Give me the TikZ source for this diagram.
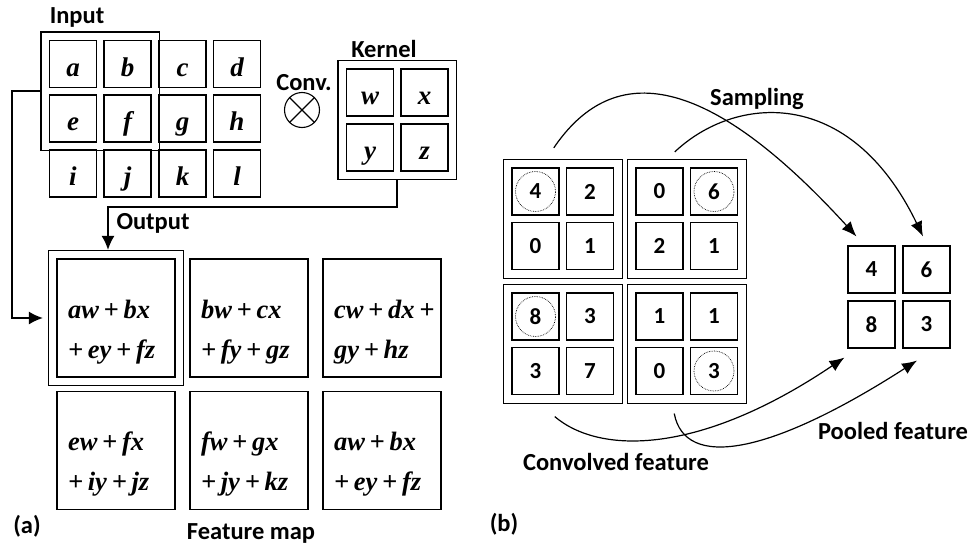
\documentclass[tikz,border=0pt]{standalone}
\usepackage{fontspec}
\setmainfont{Carlito}
\newfontfamily\timesfont{Liberation Serif}
\usetikzlibrary{arrows.meta,positioning,calc,fit}

\tikzset{
  lbl/.style={font=\fontsize{24.5}{27}\selectfont\bfseries},
  cell/.style={draw, line width=1.1pt, minimum size=47pt, inner sep=0pt},
  letter/.style={cell, font=\timesfont\fontsize{27}{29}\selectfont\bfseries\itshape, text height=24pt, text depth=0pt},
  num/.style={cell, font=\fontsize{23}{25}\selectfont\bfseries},
  fcell/.style={draw, line width=1.1pt, minimum size=118pt, inner sep=0pt},
  ftext/.style={font=\timesfont\fontsize{26.5}{40}\selectfont\bfseries\itshape, execute at begin node={\spaceskip=0.18em\relax}, text width=112pt, align=left, inner sep=0pt},
  grp/.style={draw, line width=1.1pt, inner sep=8pt},
  arr/.style={line width=1.6pt, -{Latex[length=14pt,width=13pt]}},
  curv/.style={line width=1.2pt, -{Latex[length=15pt,width=12pt]}},
  pick/.style={densely dotted, line width=0.7pt},
}

\begin{document}
\begin{tikzpicture}[x=1pt,y=-1pt]
\useasboundingbox (0,0) rectangle (972,546);

% --- (a) Input ---
\node[letter] (ia) at (73,64) {a};
\node[letter] (ib) at (127.5,64) {b};
\node[letter] (ic) at (182.5,64) {c};
\node[letter] (id) at (237,64) {d};
\node[letter] (ie) at (73,118.5) {e};
\node[letter] (if) at (127.5,118.5) {f};
\node[letter] (ig) at (182.5,118.5) {g};
\node[letter] (ih) at (237,118.5) {h};
\node[letter] (ii) at (73,173.5) {i};
\node[letter] (ij) at (127.5,173.5) {j};
\node[letter] (ik) at (182.5,173.5) {k};
\node[letter] (il) at (237,173.5) {l};
\node[grp, fit=(ia)(if)] (inbox) {};
\node[lbl] (inlbl) at (77,17) {Input};

% Conv. sign
\node[lbl] (convlbl) at (304,83) {Conv.};
\node[draw, circle, line width=1.1pt, minimum size=35pt, inner sep=0pt] (conv) at (302,110) {};
\draw[line width=1.1pt] (conv.north west) -- (conv.south east);
\draw[line width=1.1pt] (conv.north east) -- (conv.south west);

% --- Kernel ---
\node[letter] (kw) at (370,92.5) {w};
\node[letter] (kx) at (424.5,92.5) {x};
\node[letter] (ky) at (370,147.5) {y};
\node[letter] (kz) at (424.5,147.5) {z};
\node[grp, fit=(kw)(kz)] (kbox) {};
\node[lbl] (klbl) at (384,49) {Kernel};

% --- Feature map ---
\node[fcell] (f1) at (116,318) {};
\node[fcell] (f2) at (249,318) {};
\node[fcell] (f3) at (382,318) {};
\node[fcell] (f4) at (116,450.5) {};
\node[fcell] (f5) at (249,450.5) {};
\node[fcell] (f6) at (382,450.5) {};
\node[ftext] at ([xshift=8pt,yshift=-14pt]f1.center) {aw + bx\\+ ey + fz};
\node[ftext] at ([xshift=8pt,yshift=-14pt]f2.center) {bw + cx\\+ fy + gz};
\node[ftext] at ([xshift=8pt,yshift=-14pt]f3.center) {cw + dx +\\gy + hz};
\node[ftext] at ([xshift=8pt,yshift=-14pt]f4.center) {ew + fx\\+ iy + jz};
\node[ftext] at ([xshift=8pt,yshift=-14pt]f5.center) {fw + gx\\+ jy + kz};
\node[ftext] at ([xshift=8pt,yshift=-14pt]f6.center) {aw + bx\\+ ey + fz};
\node[grp, fit=(f1)] (outbox) {};
\node[lbl] (outlbl) at (153,223) {Output};
\node[lbl] (fmlbl) at (251,533) {Feature map};
\node[lbl] (albl) at (27,526) {(a)};

% Arrows into the output
\coordinate (lbend) at (12,88);
\coordinate (kbend) at (108,207);
\draw[arr, shorten >=5pt] (inbox.west) -| (lbend |- outbox.west) -- (outbox.west);
\draw[arr] (kbox.south) |- (kbend) -- (kbend |- outbox.north);

% --- (b) Convolved feature ---
\node[num] (a1) at (535.5,191.5) {4};
\node[num] (a2) at (590,191.5) {2};
\node[num] (a3) at (535.5,246) {0};
\node[num] (a4) at (590,246) {1};
\node[grp, fit=(a1)(a4)] (qa) {};

\node[num] (b1) at (659.5,191.5) {0};
\node[num] (b2) at (714,191.5) {6};
\node[num] (b3) at (659.5,246) {2};
\node[num] (b4) at (714,246) {1};
\node[grp, fit=(b1)(b4)] (qb) {};

\node[num] (c1) at (535.5,316.5) {8};
\node[num] (c2) at (590,316.5) {3};
\node[num] (c3) at (535.5,371) {3};
\node[num] (c4) at (590,371) {7};
\node[grp, fit=(c1)(c4)] (qc) {};

\node[num] (d1) at (659.5,316.5) {1};
\node[num] (d2) at (714,316.5) {1};
\node[num] (d3) at (659.5,371) {0};
\node[num] (d4) at (714,371) {3};
\node[grp, fit=(d1)(d4)] (qd) {};

% max values
\draw[pick] (a1.center) circle (20pt);
\draw[pick] (b2.center) circle (20pt);
\draw[pick] (c1.center) circle (20pt);
\draw[pick] (d4.center) circle (20pt);

% --- Pooled feature ---
\node[num] (p4) at (871.5,269.5) {4};
\node[num] (p6) at (926.5,269.5) {6};
\node[num] (p8) at (871.5,324.5) {8};
\node[num] (p3) at (926.5,324.5) {3};

\node[lbl] (samplbl) at (757,99) {Sampling};
\node[lbl] (poollbl) at (893,431) {Pooled feature};
\node[lbl] (cvlbl) at (616,462) {Convolved feature};
\node[lbl] (blbl) at (504,524) {(b)};

% Sampling curves
\coordinate (s1) at ([xshift=-9pt,yshift=11pt]qa.north);
\coordinate (s2) at ([xshift=-12pt,yshift=7pt]qb.north);
\coordinate (s3) at ([xshift=-8pt,yshift=-13pt]qc.south);
\coordinate (s4) at ([xshift=-12.5pt,yshift=-10pt]qd.south);
\coordinate (t1) at ([xshift=9pt,yshift=9pt]p4.north west);
\coordinate (t2) at ([xshift=-3.5pt,yshift=9pt]p6.north);
\coordinate (t3) at ([xshift=-3pt,yshift=-9pt]p8.south west);
\coordinate (t4) at ([xshift=-9.5pt,yshift=-12pt]p3.south);
\draw[curv] (s1) .. controls (610,65) and (700,65) .. (t1);
\draw[curv] (s2) .. controls (735,95) and (850,85) .. (t2);
\draw[curv] (s3) .. controls (600,455) and (700,455) .. (t3);
\draw[curv] (s4) .. controls (685,470) and (770,455) .. (t4);
\end{tikzpicture}
\end{document}
